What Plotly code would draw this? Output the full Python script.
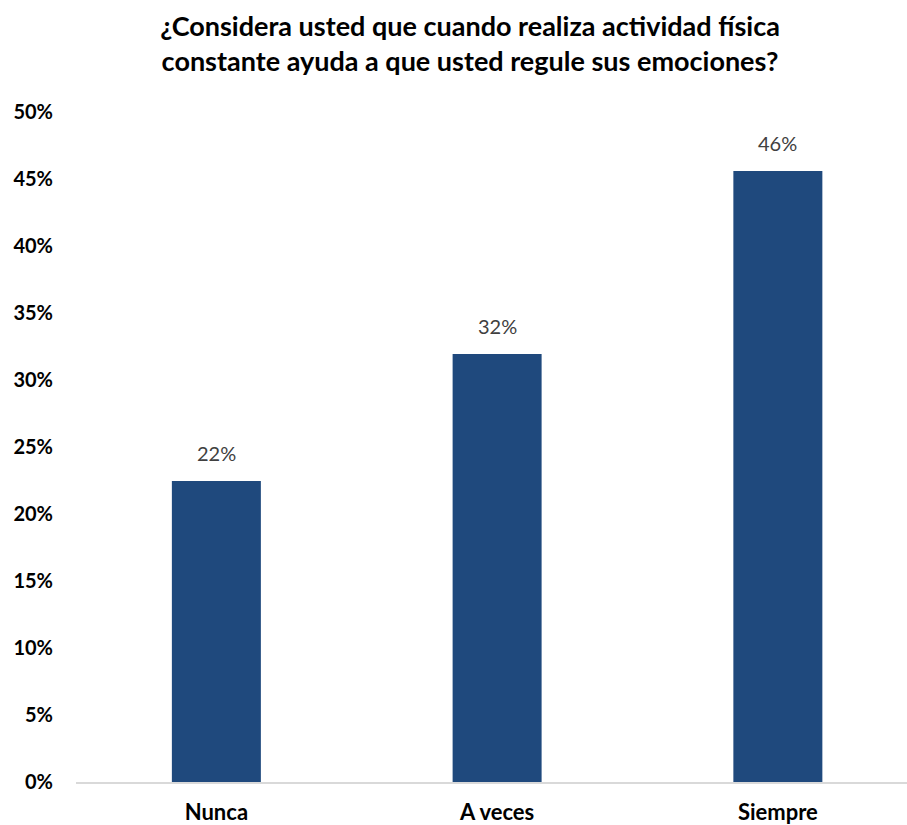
import plotly.graph_objects as go

# Survey answers and their share of respondents
categories = ["Nunca", "A veces", "Siempre"]
shares = [0.2246, 0.3194, 0.456]
y_ticks = [0, 0.05, 0.10, 0.15, 0.20, 0.25, 0.30, 0.35, 0.40, 0.45, 0.50]

title_text = ("¿Considera usted que cuando realiza actividad física<br>"
              "constante ayuda a que usted regule sus emociones?")

BAR_COLOR = "#1F497D"
FONT = "Lato"

fig = go.Figure(
    go.Bar(
        x=categories,
        y=shares,
        marker=dict(color=BAR_COLOR, line=dict(width=0)),
        hoverinfo="skip",
    )
)

# Value labels above each bar
for cat, val in zip(categories, shares):
    fig.add_annotation(
        x=cat, y=val, text=f"{val:.0%}", showarrow=False,
        yanchor="bottom", yshift=14,
        font=dict(family=FONT, size=20, color="#404040"),
    )

fig.update_layout(
    width=907, height=825,
    margin=dict(l=76, r=0, t=112, b=43),
    paper_bgcolor="white", plot_bgcolor="white",
    bargap=0.683,
    showlegend=False,
    title=dict(
        text=title_text, x=470 / 907, xanchor="center",
        y=1 - 36 / 825, yanchor="middle",
        font=dict(family=FONT, size=27, color="black", weight="bold"),
    ),
    font=dict(family=FONT),
)

fig.update_xaxes(
    range=[-0.5, 2.46], showgrid=False, zeroline=False,
    showline=True, linecolor="#D9D9D9", linewidth=1.5,
    ticks="", ticklabelstandoff=10,
    tickfont=dict(family=FONT, size=22, color="black", weight="bold"),
)
fig.update_yaxes(
    range=[0, 0.5], showgrid=False, zeroline=False, showline=False,
    tickvals=y_ticks, tickformat=".0%", ticks="",
    ticklabelstandoff=22,
    tickfont=dict(family=FONT, size=20, color="black", weight="bold"),
)

fig.write_html("out.html")
